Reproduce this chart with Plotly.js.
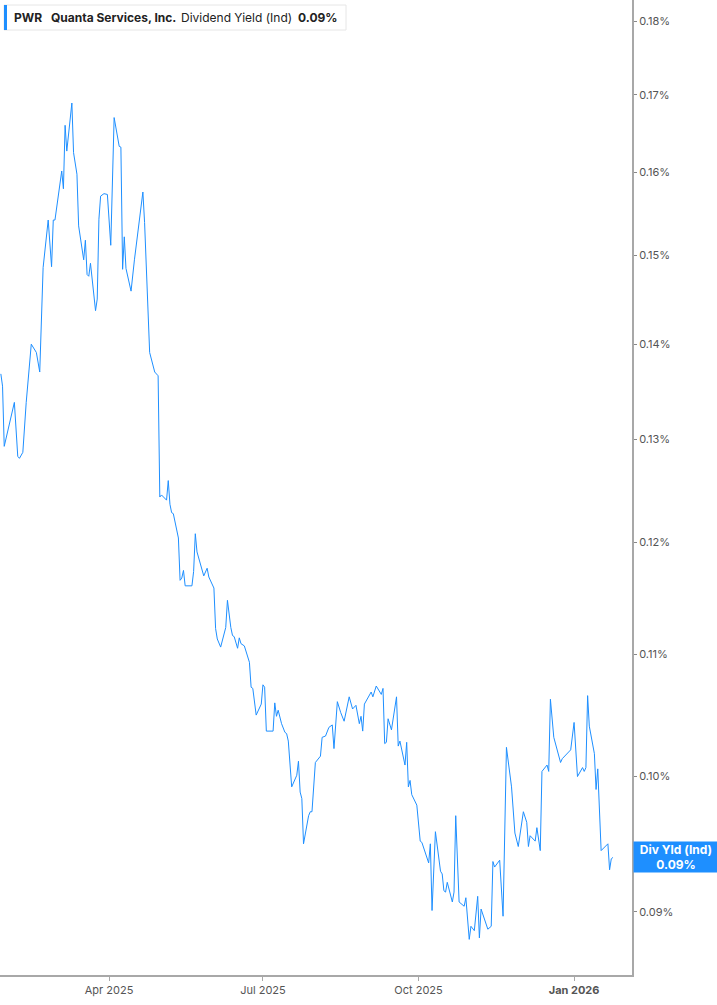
<!DOCTYPE html>
<html>
<head>
<meta charset="utf-8">
<script src="https://cdn.plot.ly/plotly-3.0.1.min.js"></script>
<style>
  html, body { margin: 0; padding: 0; background: #fff; }
  #chart { width: 717px; height: 1005px; }
</style>
</head>
<body>
<div id="chart"></div>
<script>
// PWR dividend yield (Ind), values in percent
const dates = [
  '2025-01-27','2025-01-28','2025-01-29','2025-02-04','2025-02-06','2025-02-07','2025-02-09','2025-02-11','2025-02-14','2025-02-17',
  '2025-02-19','2025-02-21','2025-02-24','2025-02-26','2025-02-27','2025-02-28','2025-03-04','2025-03-05','2025-03-06','2025-03-07',
  '2025-03-10','2025-03-11','2025-03-13','2025-03-14','2025-03-17','2025-03-18','2025-03-19','2025-03-20','2025-03-21','2025-03-24',
  '2025-03-25','2025-03-26','2025-03-27','2025-03-29','2025-03-31','2025-04-02','2025-04-04','2025-04-07','2025-04-08','2025-04-09',
  '2025-04-10','2025-04-11','2025-04-14','2025-04-16','2025-04-21','2025-04-22','2025-04-25','2025-04-28','2025-04-30','2025-05-01',
  '2025-05-02','2025-05-05','2025-05-06','2025-05-07','2025-05-08','2025-05-09','2025-05-12','2025-05-13','2025-05-14','2025-05-15',
  '2025-05-16','2025-05-20','2025-05-21','2025-05-22','2025-05-23','2025-05-27','2025-05-29','2025-05-30','2025-06-02','2025-06-03',
  '2025-06-04','2025-06-06','2025-06-09','2025-06-10','2025-06-12','2025-06-13','2025-06-14','2025-06-16','2025-06-17','2025-06-18',
  '2025-06-20','2025-06-23','2025-06-24','2025-06-25','2025-06-27','2025-06-30','2025-07-01','2025-07-02','2025-07-03','2025-07-07',
  '2025-07-08','2025-07-09','2025-07-10','2025-07-12','2025-07-14','2025-07-15','2025-07-16','2025-07-18','2025-07-21','2025-07-22',
  '2025-07-23','2025-07-24','2025-07-25','2025-07-28','2025-07-29','2025-07-30','2025-08-01','2025-08-04','2025-08-05','2025-08-07',
  '2025-08-09','2025-08-11','2025-08-12','2025-08-14','2025-08-16','2025-08-18','2025-08-21','2025-08-23','2025-08-25','2025-08-27',
  '2025-08-28','2025-08-29','2025-08-30','2025-09-03','2025-09-04','2025-09-06','2025-09-09','2025-09-10','2025-09-11','2025-09-12',
  '2025-09-13','2025-09-15','2025-09-18','2025-09-19','2025-09-20','2025-09-23','2025-09-24','2025-09-25','2025-09-26','2025-09-27',
  '2025-09-30','2025-10-02','2025-10-03','2025-10-07','2025-10-08','2025-10-09','2025-10-11','2025-10-14','2025-10-15','2025-10-16',
  '2025-10-17','2025-10-18','2025-10-21','2025-10-22','2025-10-23','2025-10-25','2025-10-28','2025-10-29','2025-10-31','2025-11-01',
  '2025-11-03','2025-11-05','2025-11-06','2025-11-07','2025-11-11','2025-11-13','2025-11-14','2025-11-15','2025-11-18','2025-11-20',
  '2025-11-22','2025-11-25','2025-11-27','2025-11-29','2025-12-02','2025-12-04','2025-12-05','2025-12-06','2025-12-09','2025-12-10',
  '2025-12-12','2025-12-13','2025-12-16','2025-12-17','2025-12-18','2025-12-20','2025-12-24','2025-12-25','2025-12-30','2026-01-01',
  '2026-01-03','2026-01-05','2026-01-06','2026-01-07','2026-01-08','2026-01-09','2026-01-10','2026-01-13','2026-01-14','2026-01-15',
  '2026-01-17','2026-01-21','2026-01-22','2026-01-23','2026-01-24'
];

const yieldPct = [
  0.1368,0.1355,0.1293,0.1338,0.1283,0.1281,0.1287,0.1338,0.1400,0.1391,
  0.1370,0.1486,0.1542,0.1487,0.1542,0.1542,0.1602,0.1580,0.1660,0.1627,
  0.1689,0.1625,0.1598,0.1535,0.1495,0.1518,0.1478,0.1476,0.1491,0.1437,
  0.1450,0.1543,0.1571,0.1574,0.1573,0.1512,0.1670,0.1633,0.1632,0.1484,
  0.1522,0.1485,0.1459,0.1495,0.1576,0.1539,0.1391,0.1370,0.1366,0.1243,
  0.1245,0.1240,0.1259,0.1236,0.1228,0.1227,0.1204,0.1165,0.1167,0.1174,
  0.1160,0.1160,0.1173,0.1208,0.1191,0.1169,0.1176,0.1168,0.1158,0.1122,
  0.1113,0.1106,0.1123,0.1147,0.1123,0.1116,0.1115,0.1105,0.1114,0.1109,
  0.1107,0.1093,0.1072,0.1071,0.1049,0.1058,0.1074,0.1072,0.1036,0.1036,
  0.1059,0.1048,0.1053,0.1042,0.1035,0.1034,0.1028,0.0992,0.1001,0.1012,
  0.0988,0.0983,0.0949,0.0970,0.0973,0.0973,0.1011,0.1016,0.1031,0.1032,
  0.1039,0.1041,0.1022,0.1060,0.1051,0.1044,0.1064,0.1054,0.1057,0.1042,
  0.1048,0.1036,0.1058,0.1068,0.1064,0.1073,0.1066,0.1071,0.1026,0.1027,
  0.1046,0.1037,0.1064,0.1024,0.1028,0.1009,0.1027,0.0992,0.0997,0.0986,
  0.0978,0.0951,0.0950,0.0935,0.0949,0.0901,0.0958,0.0929,0.0927,0.0915,
  0.0914,0.0921,0.0907,0.0914,0.0970,0.0907,0.0904,0.0910,0.0881,0.0890,
  0.0887,0.0911,0.0882,0.0902,0.0888,0.0890,0.0936,0.0932,0.0937,0.0897,
  0.1023,0.0992,0.0957,0.0947,0.0973,0.0965,0.0947,0.0955,0.0951,0.0961,
  0.0944,0.1004,0.1009,0.1004,0.1062,0.1031,0.1011,0.1014,0.1021,0.1043,
  0.1000,0.1005,0.1007,0.1004,0.1007,0.1065,0.1040,0.1018,0.0990,0.1006,
  0.0944,0.0949,0.0930,0.0938,0.0939
];

const xTickVals = ['2025-04-01', '2025-07-01', '2025-10-01', '2026-01-01'];
const xTickText = ['Apr 2025', 'Jul 2025', 'Oct 2025', '<b>Jan 2026</b>'];
const yTickVals = [0.09, 0.10, 0.11, 0.12, 0.13, 0.14, 0.15, 0.16, 0.17, 0.18];
const yTickText = ['0.09%', '0.10%', '0.11%', '0.12%', '0.13%', '0.14%', '0.15%', '0.16%', '0.17%', '0.18%'];

const lineBlue = '#1e8fff';
const last = yieldPct[yieldPct.length - 1];
const lastText = last.toFixed(2) + '%';

// plot area is 632 x 975 px
const PW = 632, PH = 975;
const px = v => v / PW;
const py = v => 1 - v / PH;

const trace = {
    x: dates,
    y: yieldPct,
    type: 'scatter',
    mode: 'lines',
    line: { color: lineBlue, width: 1 },
    hoverinfo: 'x+y'
};

const font = 'Inter, "Noto Sans", Arial, sans-serif';

const layout = {
    width: 717,
    height: 1005,
    margin: { l: 0, r: 85, t: 0, b: 30 },
    paper_bgcolor: '#fff',
    plot_bgcolor: '#fff',
    showlegend: false,
    font: { family: font, size: 11, color: '#555' },
    xaxis: {
        type: 'date',
        range: ['2025-01-26 12:00', '2026-02-04 06:00'],
        tickvals: xTickVals,
        ticktext: xTickText,
        showgrid: false,
        zeroline: false,
        showline: true,
        linecolor: '#a8a8a8',
        linewidth: 2,
        ticks: 'outside',
        ticklen: 4,
        tickcolor: '#a8a8a8',
        tickfont: { family: font, size: 11, color: '#555' }
    },
    yaxis: {
        type: 'log',
        side: 'right',
        range: [Math.log10(0.08569), Math.log10(0.1830)],
        tickvals: yTickVals,
        ticktext: yTickText,
        showgrid: false,
        zeroline: false,
        showline: true,
        linecolor: '#a8a8a8',
        linewidth: 2,
        ticks: 'outside',
        ticklen: 3,
        tickcolor: '#888',
        tickfont: { family: font, size: 11, color: '#555' }
    },
    shapes: [
        {
            type: 'rect', xref: 'paper', yref: 'paper',
            x0: px(4), x1: px(346), y0: py(30), y1: py(5),
            fillcolor: '#fff', line: { color: '#e6e6e6', width: 1 }, layer: 'above'
        },
        {
            type: 'rect', xref: 'paper', yref: 'paper',
            x0: px(4), x1: px(7), y0: py(30), y1: py(5),
            fillcolor: lineBlue, line: { width: 0 }, layer: 'above'
        }
    ],
    annotations: [
        { text: '<b>PWR</b>', x: px(12), y: py(17), xref: 'paper', yref: 'paper', xanchor: 'left', yanchor: 'middle', showarrow: false, font: { family: font, size: 12, color: '#222' } },
        { text: '<b>Quanta Services, Inc.</b>', x: px(49), y: py(17), xref: 'paper', yref: 'paper', xanchor: 'left', yanchor: 'middle', showarrow: false, font: { family: font, size: 12, color: '#222' } },
        { text: 'Dividend Yield (Ind)', x: px(179), y: py(17), xref: 'paper', yref: 'paper', xanchor: 'left', yanchor: 'middle', showarrow: false, font: { family: font, size: 12, color: '#222' } },
        { text: '<b>' + lastText + '</b>', x: px(296), y: py(17), xref: 'paper', yref: 'paper', xanchor: 'left', yanchor: 'middle', showarrow: false, font: { family: font, size: 12, color: '#222' } },
        {
            text: '<b>Div Yld (Ind)<br>' + lastText + '</b>',
            x: 1, xref: 'paper', xanchor: 'left', xshift: 1,
            y: Math.log10(last), yref: 'y', yanchor: 'middle',
            showarrow: false,
            bgcolor: lineBlue,
            width: 82, height: 28,
            borderpad: 1,
            font: { family: font, size: 12, color: '#fff' }
        }
    ]
};

Plotly.newPlot('chart', [trace], layout, { displayModeBar: false, staticPlot: true });
</script>
</body>
</html>
